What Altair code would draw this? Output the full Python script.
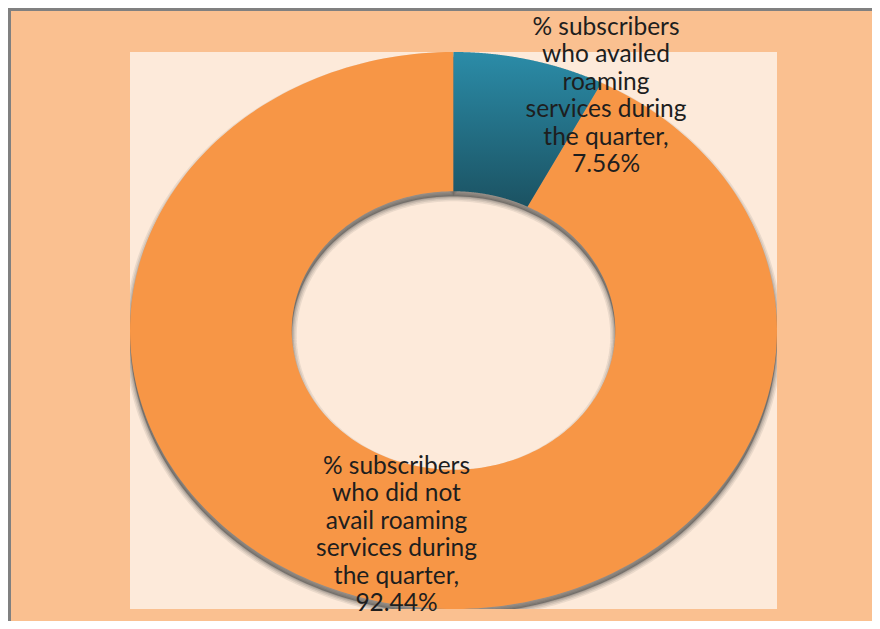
import textwrap
import pandas as pd
import altair as alt

# ---- data ----
categories = [
    "% subscribers who availed roaming services during the quarter",
    "% subscribers who did not avail roaming services during the quarter",
]
values = [7.56, 92.44]

total = sum(values)
start, end = [], []
acc = 0.0
for v in values:
    start.append(acc / total)
    acc += v
    end.append(acc / total)
labels = [
    "\n".join(textwrap.wrap(c + ",", 15)) + "\n" + f"{v:.2f}%"
    for c, v in zip(categories, values)
]
slices = pd.DataFrame(
    {"category": categories, "value": values, "start": start, "end": end, "label": labels}
)
ring_df = pd.DataFrame({"start": [0.0], "end": [1.0]})
dummy = pd.DataFrame({"k": [0]})

# ---- layout ----
W, H = 647, 557
N = 240
HOLE = 0.5

X = alt.X("px:Q", scale=alt.Scale(domain=[-1, 1], nice=False, zero=False), axis=None)
Y = alt.Y("py:Q", scale=alt.Scale(domain=[-1, 1], nice=False, zero=False), axis=None)


def polygon(chart, dy=0.0):
    return (
        chart.transform_calculate(i=f"sequence(0, {2 * N + 2})")
        .transform_flatten(["i"])
        .transform_calculate(
            t=f"datum.i <= {N} ? datum.i / {N} : ({2 * N + 1} - datum.i) / {N}",
            r=f"datum.i <= {N} ? 1 : {HOLE}",
            ang="2 * PI * (datum.start + (datum.end - datum.start) * datum.t)",
            px="datum.r * sin(datum.ang)",
            py=f"datum.r * cos(datum.ang) - {dy}",
        )
    )


enc = dict(x=X, y=Y, order=alt.Order("i:Q"))
dy = 5 / 278.5

layers = []
# frame lines
layers.append(
    alt.Chart(dummy)
    .mark_rule(color="#808080", strokeWidth=3)
    .encode(x=alt.value(-120.5), y=alt.value(-44), y2=alt.value(H + 12))
)
layers.append(
    alt.Chart(dummy)
    .mark_rule(color="#808080", strokeWidth=3)
    .encode(x=alt.value(-122), x2=alt.value(W + 95), y=alt.value(-42.5))
)

# shadow
layers.append(
    polygon(alt.Chart(ring_df), dy)
    .mark_line(fill="#404040", fillOpacity=0.5, strokeWidth=0, clip=True)
    .encode(**enc)
)
for w, op in [(10, 0.1), (7, 0.12), (4, 0.16), (1.5, 0.2)]:
    layers.append(
        polygon(alt.Chart(ring_df), dy)
        .mark_line(stroke="#404040", strokeWidth=w, strokeOpacity=op, strokeJoin="round", clip=True)
        .encode(**enc)
    )

# slices
layers.append(
    polygon(alt.Chart(slices).transform_filter(alt.datum.category == categories[1]))
    .mark_line(fill="#F79646", strokeWidth=0)
    .encode(**enc)
)
blue_grad = alt.LinearGradient(
    gradient="linear",
    stops=[
        alt.GradientStop(color="#2B8CA8", offset=0),
        alt.GradientStop(color="#1B5262", offset=1),
    ],
    x1=0, x2=0, y1=0, y2=1,
)
layers.append(
    polygon(alt.Chart(slices).transform_filter(alt.datum.category == categories[0]))
    .mark_line(fill=blue_grad, strokeWidth=0)
    .encode(**enc)
)

# labels
text_style = dict(
    font="Lato", fontSize=24.5, lineHeight=27.4, lineBreak="\n",
    align="center", baseline="middle", color="#1E1E1E",
)
layers.append(
    alt.Chart(slices)
    .transform_filter(alt.datum.category == categories[0])
    .mark_text(**text_style)
    .encode(text="label:N", x=alt.value(476), y=alt.value(-24))
)
layers.append(
    alt.Chart(slices)
    .transform_filter(alt.datum.category == categories[1])
    .mark_text(**text_style)
    .encode(text="label:N", x=alt.value(266.5), y=alt.value(415))
)

chart = (
    alt.layer(*layers)
    .properties(
        width=W,
        height=H,
        autosize=alt.AutoSizeParams(type="none"),
        padding={"left": 122, "top": 44, "right": 95, "bottom": 12},
        background="#FAC090",
    )
    .configure_view(fill="#FDEADA", strokeWidth=0)
)

chart.save("out.html", embed_options={"renderer": "svg", "actions": False})
